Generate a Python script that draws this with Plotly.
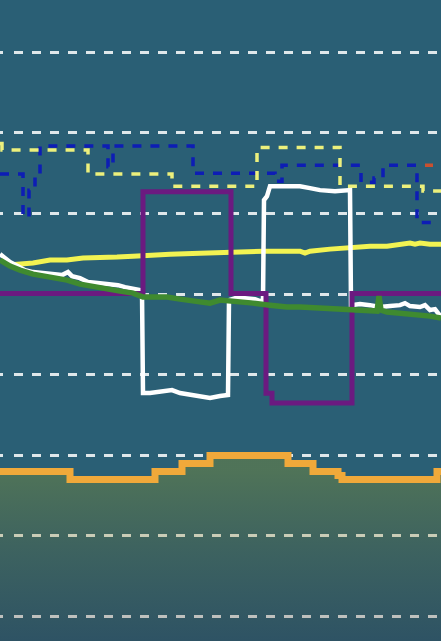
import plotly.graph_objects as go

# ---- data (x: time index, y: value) ----
grid_values = [0, 10, 20, 30, 40, 50, 60, 70]

blue_x = [0, 23, 29, 35, 40, 108, 113, 193, 275, 282, 361, 374, 383, 417, 432]
blue_y = [54.9, 49.6, 52.9, 54.8, 58.4, 55.8, 58.4, 55.0, 54.0, 56.0, 53.9, 54.4, 56.0, 48.9, 48.9]

ydash_x = [0, 2, 88, 172, 257, 340, 423, 441]
ydash_y = [58.7, 57.9, 54.9, 53.4, 58.2, 53.4, 52.8, 52.8]

red_x = [425, 433]
red_y = [56.0, 56.0]

purple_x = [0, 143, 231, 266, 272, 352, 441]
purple_y = [40.1, 52.7, 40.1, 27.7, 26.5, 40.1, 40.1]

white_x = [0, 5, 10, 18, 25, 33, 45, 55, 62, 68, 72, 80, 88, 100, 110, 118, 125, 133, 140, 142,
           143, 150, 158, 165, 172, 180, 190, 200, 210, 220, 228,
           229, 235, 245, 255, 260, 263,
           264, 267, 270, 280, 290, 300, 310, 320, 335, 350,
           351, 360, 370, 380, 390, 400, 405, 410, 420, 425, 430, 435, 441]
white_y = [44.97, 44.48, 43.98, 43.48, 42.99, 42.74, 42.61, 42.49, 42.37, 42.74, 42.24, 41.99, 41.50,
           41.37, 41.25, 41.12, 40.87, 40.62, 40.50, 40.26,
           27.73, 27.73, 27.86, 27.98, 28.10, 27.73, 27.48, 27.24, 27.11, 27.36, 27.48,
           39.27, 39.51, 39.51, 39.39, 39.14, 39.27,
           51.67, 52.16, 53.40, 53.40, 53.40, 53.40, 53.16, 52.91, 52.78, 52.91,
           38.64, 38.77, 38.64, 38.40, 38.52, 38.64, 38.89, 38.52, 38.40, 38.64, 38.03, 38.15, 37.16]

green_x = [0, 5, 10, 20, 33, 50, 67, 80, 90, 100, 110, 120, 133, 143, 155, 167, 180, 200, 210, 220,
           235, 253, 270, 287, 300, 320, 340, 353, 370, 377, 379, 381, 387, 400, 410, 420, 430, 441]
green_y = [44.23, 43.86, 43.48, 42.99, 42.49, 42.12, 41.75, 41.25, 41.00, 40.75, 40.62, 40.38, 40.13,
           39.64, 39.64, 39.64, 39.39, 39.02, 38.89, 39.27, 39.14, 38.89, 38.64, 38.40, 38.40, 38.27,
           38.27, 38.15, 38.03, 37.90, 39.76, 38.03, 37.78, 37.65, 37.65, 37.41, 37.28, 37.03]

yel_x = [8, 20, 33, 50, 67, 83, 100, 117, 133, 147, 170, 200, 220, 240, 263, 280, 300, 305, 310,
         330, 353, 370, 387, 400, 410, 415, 420, 430, 441]
yel_y = [43.61, 43.73, 43.86, 44.23, 44.23, 44.48, 44.48, 44.60, 44.72, 44.85, 44.97, 45.09, 45.09,
         45.22, 45.34, 45.34, 45.34, 45.09, 45.34, 45.59, 45.84, 45.96, 45.96, 46.09, 46.34, 46.21,
         46.34, 46.21, 46.21]

orange_x = [0, 70, 155, 182, 210, 288, 313, 338, 342, 437, 441]
orange_y = [18, 17, 18, 19, 20, 19, 18, 17.5, 17, 18, 18]

base_x = [0, 441]
base_y = [-10, -10]

Y_RANGE = [-3.03, 76.5]
X_RANGE = [0, 441]

fig = go.Figure()

# baseline for the area fill
fig.add_trace(go.Scatter(x=base_x, y=base_y, mode="lines", line=dict(width=0),
                         hoverinfo="skip", showlegend=False))
fig.add_trace(go.Scatter(
    x=orange_x, y=orange_y, mode="lines", line=dict(color="#f0a93a", width=7, shape="hv"),
    fill="tonexty",
    fillgradient=dict(type="vertical", start=-3, stop=18,
                      colorscale=[[0, "rgba(60,40,40,0.22)"],
                                  [0.5, "rgba(120,105,25,0.23)"],
                                  [1, "rgba(180,170,10,0.27)"]]),
    showlegend=False))

fig.add_trace(go.Scatter(x=blue_x, y=blue_y, mode="lines",
                         line=dict(color="#0d1db5", width=3.5, shape="hv", dash="9px,9px"),
                         showlegend=False))
fig.add_trace(go.Scatter(x=ydash_x, y=ydash_y, mode="lines",
                         line=dict(color="#ecf07c", width=3.5, shape="hv", dash="9px,9px"),
                         showlegend=False))
fig.add_trace(go.Scatter(x=red_x, y=red_y, mode="lines",
                         line=dict(color="#c9502f", width=3.5), showlegend=False))
fig.add_trace(go.Scatter(x=yel_x, y=yel_y, mode="lines",
                         line=dict(color="#f2f352", width=5), showlegend=False))
fig.add_trace(go.Scatter(x=white_x, y=white_y, mode="lines",
                         line=dict(color="#ffffff", width=4.5), showlegend=False))
fig.add_trace(go.Scatter(x=purple_x, y=purple_y, mode="lines",
                         line=dict(color="#6b1a80", width=5, shape="hv"), showlegend=False))
fig.add_trace(go.Scatter(x=green_x, y=green_y, mode="lines",
                         line=dict(color="#3f8a2f", width=5.5), showlegend=False))

grid_dash = "3px,10.5px" + ",9px,9px" * 26

fig.update_layout(
    width=441, height=641,
    margin=dict(l=0, r=0, t=0, b=0),
    paper_bgcolor="#2a5f75",
    plot_bgcolor="#2a5f75",
    showlegend=False,
    xaxis=dict(range=X_RANGE, visible=False, showgrid=False, zeroline=False),
    yaxis=dict(range=Y_RANGE, tickmode="array", tickvals=grid_values, showticklabels=False,
               showgrid=True, gridcolor="rgba(255,255,255,0.85)", gridwidth=3,
               griddash=grid_dash, zeroline=False, showline=False, ticks=""),
)

fig.write_html(
    "out.html",
    config={"displayModeBar": False},
    post_script="document.body.style.margin='0';document.body.style.padding='0';"
                "document.body.style.overflow='hidden';document.body.style.background='#2a5f75';",
)
